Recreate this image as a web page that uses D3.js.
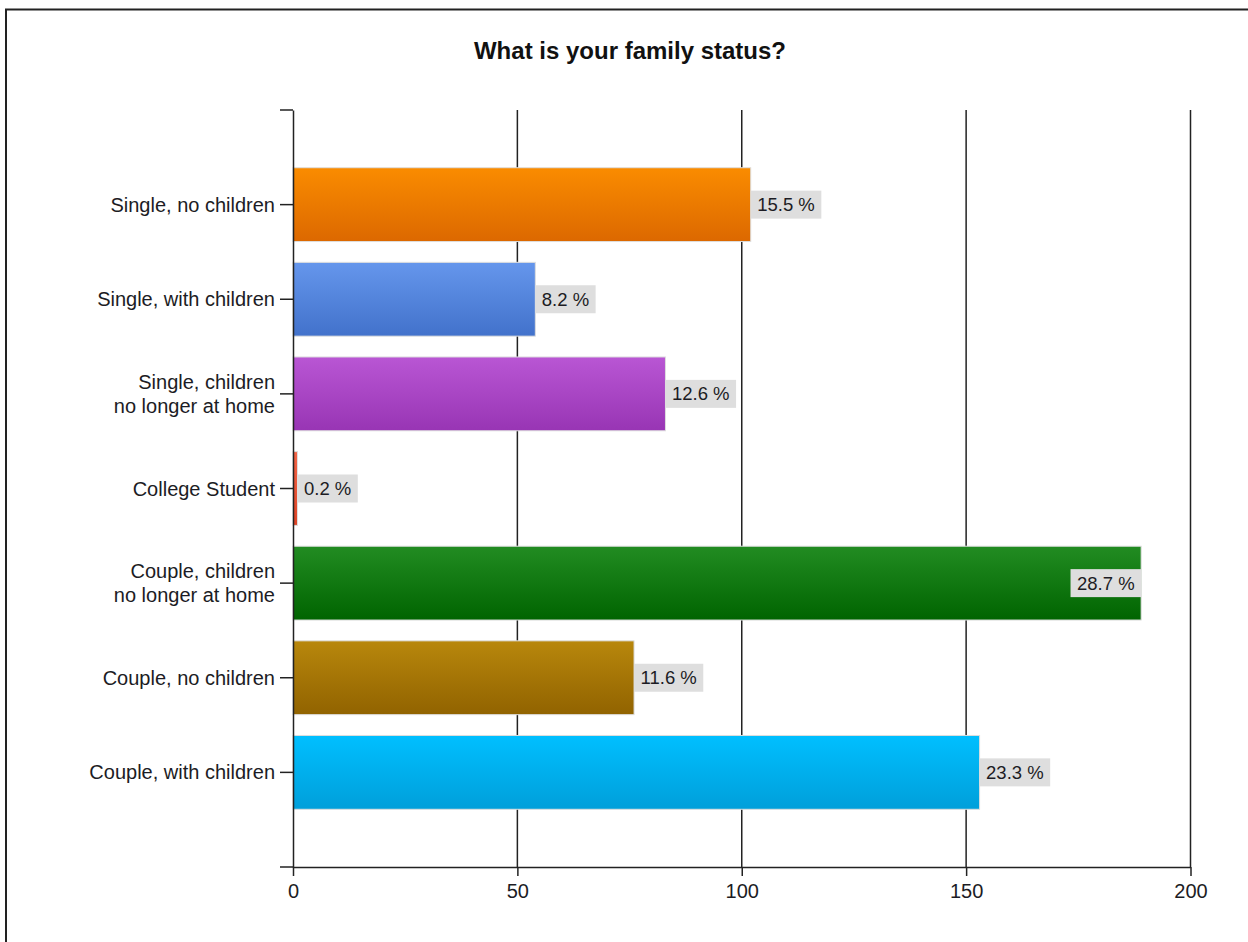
<!DOCTYPE html>
<html>
<head>
<meta charset="utf-8">
<script src="https://cdn.jsdelivr.net/npm/d3@7/dist/d3.min.js"></script>
<style>
  html, body { margin: 0; padding: 0; background: #fff; }
  svg { display: block; }
  text { font-family: "Liberation Sans", Arial, sans-serif; fill: #1c1c24; }
</style>
</head>
<body>
<svg id="chart" width="1248" height="942"></svg>
<script>
// Survey answers: number of respondents per family status
const categories = [
  "Single, no children",
  "Single, with children",
  "Single, children\nno longer at home",
  "College Student",
  "Couple, children\nno longer at home",
  "Couple, no children",
  "Couple, with children"
];
const counts = [102, 54, 83, 1, 189, 76, 153];

// Gradient stops for each bar (top, bottom)
const topColors    = ["#fa8c00", "#6596ec", "#b956d4", "#f36446", "#228c22", "#b8870c", "#00bfff"];
const bottomColors = ["#dc6800", "#4272cb", "#9835b4", "#dd4325", "#006400", "#916300", "#009fda"];

const xTicks = [0, 50, 100, 150, 200];
const title = "What is your family status?";

const total = d3.sum(counts);
const rows = categories.map((c, i) => ({
  cat: c, value: counts[i], pct: (counts[i] / total * 100).toFixed(1) + " %", i
}));

const svg = d3.select("#chart");

// Outer frame
svg.append("rect")
  .attr("x", 6).attr("y", 9.5)
  .attr("width", 1400).attr("height", 1200)
  .attr("fill", "none").attr("stroke", "#222").attr("stroke-width", 2);

// Title
svg.append("text")
  .attr("x", 630).attr("y", 58.5)
  .attr("text-anchor", "middle")
  .style("font-size", "24px").style("font-weight", "bold")
  .style("fill", "#111")
  .text(title);

const plot = { left: 293, right: 1190.5, top: 110, bottom: 867 };

const x = d3.scaleLinear().domain([0, 200]).range([plot.left, plot.right]);
const y = d3.scaleBand().domain(categories)
  .range([plot.top, plot.bottom])
  .paddingInner(0.22).paddingOuter(0.61);

// Gradients
const defs = svg.append("defs");
rows.forEach(r => {
  const g = defs.append("linearGradient")
    .attr("id", "grad" + r.i)
    .attr("x1", 0).attr("y1", 0).attr("x2", 0).attr("y2", 1);
  g.append("stop").attr("offset", "0%").attr("stop-color", topColors[r.i]);
  g.append("stop").attr("offset", "100%").attr("stop-color", bottomColors[r.i]);
});

// Vertical grid lines
svg.append("g")
  .selectAll("line")
  .data(xTicks.slice(1))
  .join("line")
  .attr("x1", d => x(d)).attr("x2", d => x(d))
  .attr("y1", plot.top).attr("y2", plot.bottom)
  .attr("stroke", "#222").attr("stroke-width", 1.5);

// Bars
svg.append("g")
  .selectAll("rect")
  .data(rows)
  .join("rect")
  .attr("x", x(0))
  .attr("y", d => y(d.cat))
  .attr("width", d => x(d.value) - x(0))
  .attr("height", y.bandwidth())
  .attr("fill", d => `url(#grad${d.i})`)
  .attr("stroke", "#dedede").attr("stroke-width", 1);

// X axis
const xAxis = svg.append("g")
  .attr("transform", `translate(0,${plot.bottom})`)
  .call(d3.axisBottom(x).tickValues(xTicks).tickSize(9).tickPadding(8).tickSizeOuter(0));
xAxis.select(".domain").attr("stroke", "#222").attr("stroke-width", 1.5);
xAxis.selectAll(".tick line").attr("stroke", "#222").attr("stroke-width", 1.5);
xAxis.selectAll(".tick text")
  .style("font-size", "20px").style("font-family", "'Liberation Sans', Arial, sans-serif")
  .attr("fill", "#1c1c24");

// Y axis
const yAxis = svg.append("g")
  .attr("transform", `translate(${plot.left},0)`)
  .call(d3.axisLeft(y).tickSize(13).tickSizeOuter(0).tickFormat(""));
yAxis.select(".domain").attr("stroke", "#222").attr("stroke-width", 1.5);
yAxis.selectAll(".tick line").attr("stroke", "#222").attr("stroke-width", 1.5);

// Ticks at both ends of the category axis
yAxis.append("g")
  .selectAll("line")
  .data(y.range())
  .join("line")
  .attr("x1", -13).attr("x2", 0)
  .attr("y1", d => d).attr("y2", d => d)
  .attr("stroke", "#222").attr("stroke-width", 1.5);

// Category labels (multi-line)
const lineH = 23.5;
yAxis.selectAll(".tick").each(function(d) {
  const lines = d.split("\n");
  const t = d3.select(this).append("text")
    .attr("x", -18)
    .attr("text-anchor", "end")
    .style("font-size", "20px")
    .style("fill", "#1c1c24");
  lines.forEach((ln, k) => {
    t.append("tspan")
      .attr("x", -18)
      .attr("y", (k - (lines.length - 1) / 2) * lineH + 7)
      .text(ln);
  });
});

// Value labels with grey boxes
const lbl = svg.append("g").selectAll("g").data(rows).join("g");
lbl.each(function(d) {
  const g = d3.select(this);
  const box = g.append("rect").attr("fill", "#dedede");
  const t = g.append("text")
    .style("font-size", "18.5px")
    .attr("text-anchor", "middle")
    .text(d.pct);
  const w = t.node().getComputedTextLength() + 13;
  const h = 28;
  const end = x(d.value);
  let bx = end;
  if (end + w > plot.right) bx = end - w;   // no room outside: tuck inside bar end
  const cy = y(d.cat) + y.bandwidth() / 2;
  box.attr("x", bx).attr("y", cy - h / 2).attr("width", w).attr("height", h);
  t.attr("x", bx + w / 2).attr("y", cy + 6.5);
});
</script>
</body>
</html>
